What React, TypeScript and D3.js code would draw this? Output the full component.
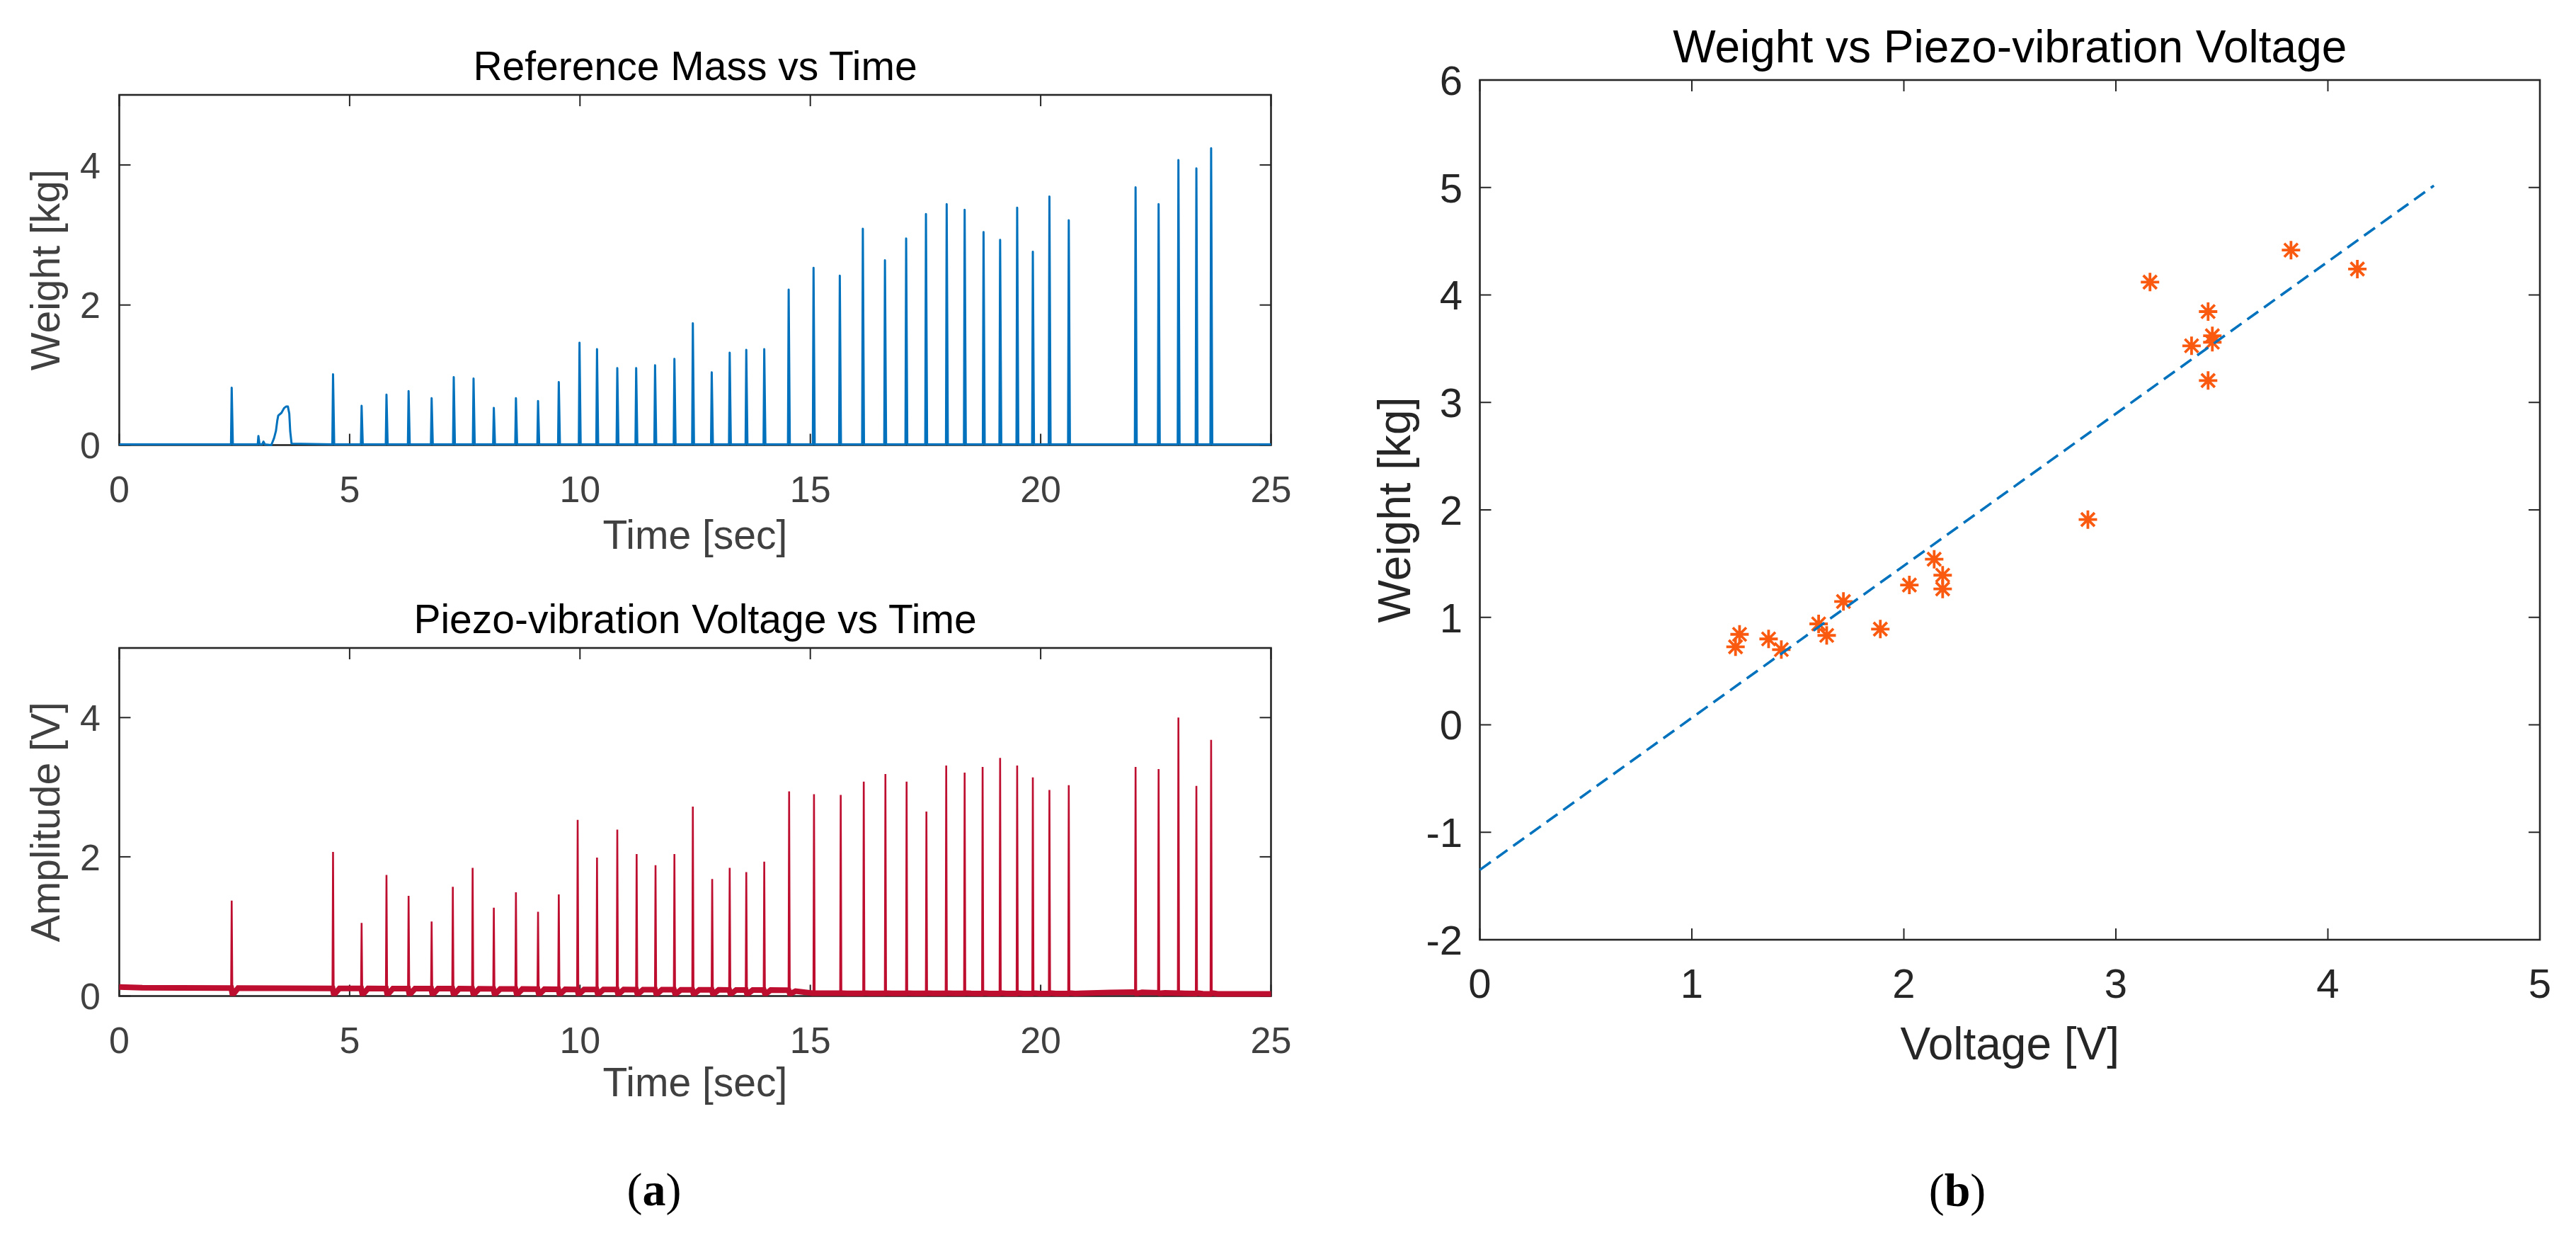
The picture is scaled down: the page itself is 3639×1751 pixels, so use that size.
import React from 'react';
import * as d3 from 'd3';

// ---------- data ----------
const timeTicks = [0, 5, 10, 15, 20, 25];
const massTicks = [0, 2, 4];
const ampTicks = [0, 2, 4];
const voltageTicks = [0, 1, 2, 3, 4, 5];
const weightTicks = [-2, -1, 0, 1, 2, 3, 4, 5, 6];

// Reference mass (kg) spikes: time [s] and peak [kg]
const massSpikeTimes = [2.44, 3.02, 4.64, 5.26, 5.8, 6.28, 6.78, 7.26, 7.69, 8.13, 8.61, 9.09, 9.54, 9.99, 10.37, 10.81, 11.22, 11.63, 12.05, 12.45, 12.86, 13.25, 13.61, 14.0, 14.53, 15.07, 15.64, 16.14, 16.62, 17.08, 17.51, 17.96, 18.35, 18.76, 19.12, 19.49, 19.83, 20.19, 20.61, 22.06, 22.56, 22.99, 23.38, 23.7];
const massSpikePeaks = [0.82, 0.13, 1.01, 0.56, 0.72, 0.77, 0.67, 0.97, 0.95, 0.53, 0.67, 0.63, 0.9, 1.46, 1.37, 1.1, 1.1, 1.14, 1.23, 1.74, 1.04, 1.32, 1.36, 1.37, 2.22, 2.53, 2.42, 3.09, 2.64, 2.95, 3.3, 3.44, 3.36, 3.04, 2.93, 3.39, 2.76, 3.55, 3.21, 3.68, 3.44, 4.07, 3.95, 4.24];
// slow bump around 3.3-3.75 s
const massHumpTimes = [3.1, 3.13, 3.16, 3.3, 3.36, 3.4, 3.43, 3.45, 3.52, 3.58, 3.62, 3.66, 3.69, 3.71, 3.74];
const massHumpValues = [0.01, 0.05, 0.01, 0.0, 0.1, 0.2, 0.35, 0.42, 0.46, 0.53, 0.55, 0.55, 0.45, 0.2, 0.02];
const massBaseline = 0.01;

// Piezo voltage (V) spikes
const voltSpikeTimes = [2.44, 4.64, 5.26, 5.8, 6.28, 6.78, 7.24, 7.67, 8.13, 8.61, 9.09, 9.54, 9.95, 10.37, 10.81, 11.23, 11.64, 12.05, 12.45, 12.87, 13.25, 13.61, 14.0, 14.54, 15.08, 15.66, 16.16, 16.63, 17.09, 17.52, 17.95, 18.35, 18.74, 19.12, 19.49, 19.83, 20.19, 20.61, 22.06, 22.56, 22.99, 23.38, 23.7];
const voltSpikePeaks = [1.37, 2.07, 1.05, 1.74, 1.44, 1.07, 1.57, 1.84, 1.27, 1.49, 1.21, 1.46, 2.53, 1.99, 2.39, 2.04, 1.88, 2.04, 2.72, 1.68, 1.84, 1.78, 1.93, 2.94, 2.9, 2.89, 3.08, 3.19, 3.08, 2.65, 3.31, 3.21, 3.29, 3.42, 3.31, 3.14, 2.96, 3.03, 3.29, 3.26, 4.0, 3.02, 3.68];
// offset level of the voltage trace between spikes
const voltBaselineTimes = [0, 0.5, 2.4, 4.6, 7.7, 10, 14.5, 15.05, 20.7, 21.5, 22.0, 23.8, 25];
const voltBaselineLevels = [0.13, 0.12, 0.115, 0.11, 0.105, 0.095, 0.085, 0.04, 0.035, 0.05, 0.055, 0.03, 0.03];
const voltDipLevel = 0.04;

// Scatter: voltage [V] vs weight [kg]
const scatterVoltage = [1.206, 1.225, 1.362, 1.422, 1.598, 1.636, 1.715, 1.889, 2.026, 2.143, 2.183, 2.183, 2.868, 3.161, 3.357, 3.435, 3.435, 3.455, 3.455, 3.826, 4.139];
const scatterWeight = [0.726, 0.842, 0.799, 0.7, 0.939, 0.832, 1.148, 0.891, 1.301, 1.541, 1.392, 1.264, 1.91, 4.12, 3.527, 3.845, 3.204, 3.62, 3.56, 4.417, 4.241];
// linear fit line
const fitSlope = 1.415;
const fitIntercept = -1.35;
const fitRange = [0, 4.5];

// ---------- styling ----------
const SANS = "'Liberation Sans', Arial, Helvetica, sans-serif";
const SERIF = "'Liberation Serif', 'Times New Roman', serif";
const AX = '#262626';
const LEFT_TEXT = '#404040';
const BLUE = '#0072BD';
const RED = '#BE0E2F';
const ORANGE = '#F95A10';

type Lin = d3.ScaleLinear<number, number>;

function Box({ x, y, xTicks, yTicks, tick }: { x: Lin; y: Lin; xTicks: number[]; yTicks: number[]; tick: number }) {
  const [x0, x1] = x.range();
  const [y1, y0] = y.range();
  return (
    <g stroke={AX} fill="none">
      <rect x={x0} y={y0} width={x1 - x0} height={y1 - y0} strokeWidth={2.6} />
      {xTicks.map((t) => (
        <g key={'x' + t} strokeWidth={2}>
          <line x1={x(t)} x2={x(t)} y1={y1} y2={y1 - tick} />
          <line x1={x(t)} x2={x(t)} y1={y0} y2={y0 + tick} />
        </g>
      ))}
      {yTicks.map((t) => (
        <g key={'y' + t} strokeWidth={2}>
          <line x1={x0} x2={x0 + tick} y1={y(t)} y2={y(t)} />
          <line x1={x1} x2={x1 - tick} y1={y(t)} y2={y(t)} />
        </g>
      ))}
    </g>
  );
}

function TickLabels({ x, y, xTicks, yTicks, size, color, xBase, yRight }: { x: Lin; y: Lin; xTicks: number[]; yTicks: number[]; size: number; color: string; xBase: number; yRight: number }) {
  return (
    <g fontFamily={SANS} fontSize={size} fill={color}>
      {xTicks.map((t) => (
        <text key={'xl' + t} x={x(t)} y={xBase} textAnchor="middle">{String(t)}</text>
      ))}
      {yTicks.map((t) => (
        <text key={'yl' + t} x={yRight} y={y(t) + size * 0.358} textAnchor="end">{String(t)}</text>
      ))}
    </g>
  );
}

export default function App() {
  // top-left: reference mass
  const xTop = d3.scaleLinear().domain([0, 25]).range([168.5, 1795.5]);
  const yTop = d3.scaleLinear().domain([0, 5]).range([628.5, 134]);
  // bottom-left: piezo voltage
  const xBot = d3.scaleLinear().domain([0, 25]).range([168.5, 1795.5]);
  const yBot = d3.scaleLinear().domain([0, 5]).range([1406.5, 915]);
  // right: scatter
  const xR = d3.scaleLinear().domain([0, 5]).range([2090.5, 3588]);
  const yR = d3.scaleLinear().domain([-2, 6]).range([1327, 113]);

  // mass trace
  const massSegs: [number, number][][] = massSpikeTimes.map((t, i) => [
    [t - 0.015, massBaseline],
    [t, massSpikePeaks[i]],
    [t + 0.025, massBaseline],
  ]);
  massSegs.push(massHumpTimes.map((t, i) => [t, massHumpValues[i]] as [number, number]));
  massSegs.sort((a, b) => a[0][0] - b[0][0]);
  const massPts: [number, number][] = [[0, massBaseline], ...massSegs.flat(), [25, massBaseline]];
  const lineTop = d3.line<[number, number]>().x((d) => xTop(d[0])).y((d) => yTop(d[1]));

  // voltage trace
  const level = d3.scaleLinear().domain(voltBaselineTimes).range(voltBaselineLevels);
  const dipWin = 0.14;
  const bandPts: [number, number][] = [];
  voltBaselineTimes.forEach((t) => {
    if (!voltSpikeTimes.some((s) => t >= s - 0.01 && t <= s + dipWin)) bandPts.push([t, level(t)]);
  });
  voltSpikeTimes.forEach((t) => {
    bandPts.push([t - 0.01, level(t)]);
    bandPts.push([t + 0.012, voltDipLevel]);
    bandPts.push([t + 0.05, voltDipLevel]);
    bandPts.push([t + dipWin, level(t + dipWin)]);
  });
  bandPts.sort((a, b) => a[0] - b[0]);
  const lineBot = d3.line<[number, number]>().x((d) => xBot(d[0])).y((d) => yBot(d[1]));

  const starR = 13;
  const starD = 9.5;
  const starPath = `M${-starR},0H${starR}M0,${-starR}V${starR}M${-starD},${-starD}L${starD},${starD}M${-starD},${starD}L${starD},${-starD}`;

  const fitPts: [number, number][] = fitRange.map((v) => [v, fitSlope * v + fitIntercept]);
  const lineR = d3.line<[number, number]>().x((d) => xR(d[0])).y((d) => yR(d[1]));

  const cxL = (xTop.range()[0] + xTop.range()[1]) / 2;
  const cxR = (xR.range()[0] + xR.range()[1]) / 2;

  return (
    <svg width={3639} height={1751} style={{ position: 'absolute', left: 0, top: 0, display: 'block' }}>
      <rect width={3639} height={1751} fill="#fff" />

      {/* ---- top-left panel ---- */}
      <Box x={xTop} y={yTop} xTicks={timeTicks} yTicks={massTicks} tick={16} />
      <path d={lineTop(massPts) || ''} fill="none" stroke={BLUE} strokeWidth={3} strokeLinejoin="round" />
      <TickLabels x={xTop} y={yTop} xTicks={timeTicks} yTicks={massTicks} size={52} color={LEFT_TEXT} xBase={709} yRight={142} />
      <text x={cxL} y={113} textAnchor="middle" fontFamily={SANS} fontSize={57} fill="#000">Reference Mass vs Time</text>
      <text x={cxL} y={775} textAnchor="middle" fontFamily={SANS} fontSize={57} fill={LEFT_TEXT}>Time [sec]</text>
      <text transform={`translate(84,${(yTop.range()[0] + yTop.range()[1]) / 2}) rotate(-90)`} textAnchor="middle" fontFamily={SANS} fontSize={57} fill={LEFT_TEXT}>Weight [kg]</text>

      {/* ---- bottom-left panel ---- */}
      <Box x={xBot} y={yBot} xTicks={timeTicks} yTicks={ampTicks} tick={16} />
      <path d={lineBot(bandPts) || ''} fill="none" stroke={RED} strokeWidth={8} strokeLinejoin="miter" />
      {voltSpikeTimes.map((t, i) => (
        <path
          key={'vs' + i}
          d={lineBot([[t - 0.012, level(t)], [t, voltSpikePeaks[i]], [t + 0.014, voltDipLevel]]) || ''}
          fill="none"
          stroke={RED}
          strokeWidth={2.6}
        />
      ))}
      <TickLabels x={xBot} y={yBot} xTicks={timeTicks} yTicks={ampTicks} size={52} color={LEFT_TEXT} xBase={1487} yRight={142} />
      <text x={cxL} y={894} textAnchor="middle" fontFamily={SANS} fontSize={57} fill="#000">Piezo-vibration Voltage vs Time</text>
      <text x={cxL} y={1548} textAnchor="middle" fontFamily={SANS} fontSize={57} fill={LEFT_TEXT}>Time [sec]</text>
      <text transform={`translate(84,${(yBot.range()[0] + yBot.range()[1]) / 2}) rotate(-90)`} textAnchor="middle" fontFamily={SANS} fontSize={57} fill={LEFT_TEXT}>Amplitude [V]</text>

      <text x={924} y={1702} textAnchor="middle" fontFamily={SERIF} fontSize={66} fill="#000">
        (<tspan fontWeight="bold">a</tspan>)
      </text>

      {/* ---- right panel ---- */}
      <Box x={xR} y={yR} xTicks={voltageTicks} yTicks={weightTicks} tick={16} />
      <g stroke={ORANGE} strokeWidth={3.8} fill="none">
        {scatterVoltage.map((v, i) => (
          <path key={'st' + i} d={starPath} transform={`translate(${xR(v)},${yR(scatterWeight[i])})`} />
        ))}
      </g>
      <path d={lineR(fitPts) || ''} fill="none" stroke={BLUE} strokeWidth={3.6} strokeDasharray="19 10" />
      <TickLabels x={xR} y={yR} xTicks={voltageTicks} yTicks={weightTicks} size={58} color={AX} xBase={1409} yRight={2066} />
      <text x={cxR} y={88} textAnchor="middle" fontFamily={SANS} fontSize={64} fill="#000">Weight vs Piezo-vibration Voltage</text>
      <text x={cxR} y={1496} textAnchor="middle" fontFamily={SANS} fontSize={64} fill={AX}>Voltage [V]</text>
      <text transform={`translate(1992,${(yR.range()[0] + yR.range()[1]) / 2}) rotate(-90)`} textAnchor="middle" fontFamily={SANS} fontSize={64} fill={AX}>Weight [kg]</text>

      <text x={2765} y={1703} textAnchor="middle" fontFamily={SERIF} fontSize={66} fill="#000">
        (<tspan fontWeight="bold">b</tspan>)
      </text>
    </svg>
  );
}
